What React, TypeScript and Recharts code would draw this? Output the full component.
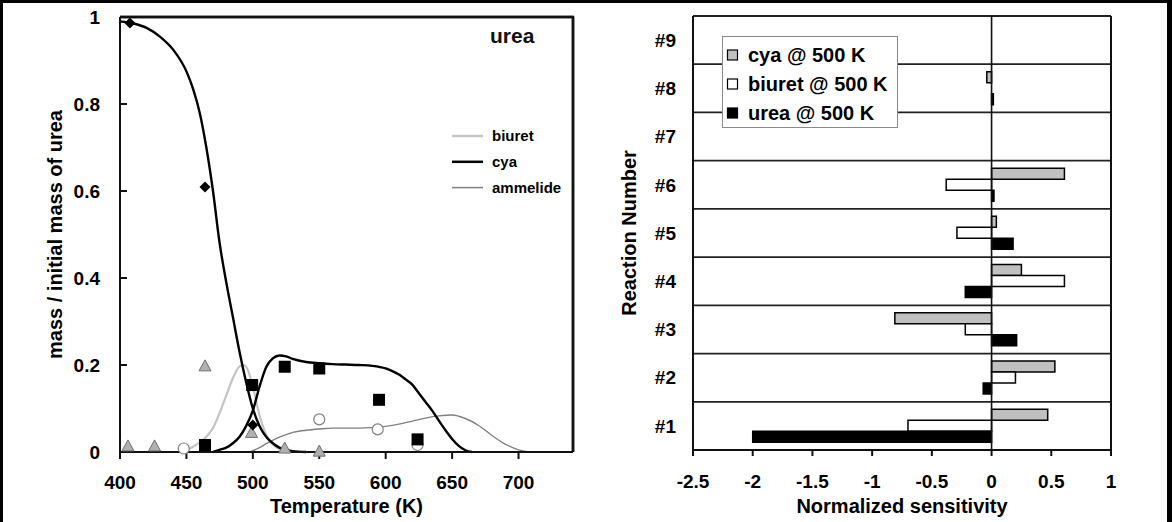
import React from "react";
import {
    Bar,
    BarChart,
    ComposedChart,
    Legend,
    Line,
    ReferenceLine,
    Scatter,
    XAxis,
    YAxis,
} from "recharts";

const FONT = '"Liberation Sans", Arial, Helvetica, sans-serif';

// ---- left panel: mass fraction vs temperature ----
const tempTicks = [400, 450, 500, 550, 600, 650, 700];
const massTicks = [0, 0.2, 0.4, 0.6, 0.8, 1];
const tempMin = 400;
const tempMax = 741;

// model curves, [T (K), mass / initial mass of urea]
const ureaCurve: [number, number][] = [
    [400, 0.99], [410, 0.985], [420, 0.975], [430, 0.955], [440, 0.925], [450, 0.875],
    [455, 0.835], [460, 0.78], [465, 0.7], [470, 0.6], [475, 0.48], [480, 0.39],
    [485, 0.31], [490, 0.23], [495, 0.16], [500, 0.1], [505, 0.06], [510, 0.035],
    [515, 0.02], [520, 0.01], [530, 0.002], [540, 0],
];
const biuretCurve: [number, number][] = [
    [450, 0.004], [455, 0.012], [460, 0.022], [465, 0.035], [470, 0.055], [475, 0.09],
    [480, 0.13], [485, 0.17], [490, 0.197], [493, 0.2], [496, 0.19], [500, 0.15],
    [505, 0.085], [510, 0.04], [515, 0.017], [520, 0.006], [525, 0.001], [530, 0],
];
const cyaCurve: [number, number][] = [
    [470, 0], [475, 0.005], [480, 0.01], [485, 0.02], [490, 0.035], [495, 0.06],
    [500, 0.095], [505, 0.15], [510, 0.195], [515, 0.215], [520, 0.222], [525, 0.22],
    [530, 0.214], [540, 0.207], [550, 0.204], [560, 0.202], [570, 0.201], [580, 0.2],
    [590, 0.198], [600, 0.192], [605, 0.186], [610, 0.178], [615, 0.167], [620, 0.155],
    [625, 0.135], [630, 0.115], [635, 0.095], [640, 0.072], [645, 0.05], [650, 0.03],
    [655, 0.014], [660, 0.004], [665, 0],
];
const ammelideCurve: [number, number][] = [
    [498, 0], [505, 0.01], [510, 0.019], [515, 0.027], [520, 0.034], [525, 0.04],
    [530, 0.045], [540, 0.05], [550, 0.053], [560, 0.055], [570, 0.055], [580, 0.055],
    [590, 0.056], [600, 0.059], [610, 0.064], [620, 0.071], [630, 0.078], [640, 0.083],
    [650, 0.085], [660, 0.077], [670, 0.061], [680, 0.038], [690, 0.018], [700, 0.005],
    [708, 0],
];

// measured points
const ureaPoints: [number, number][] = [[407.5, 0.986], [464, 0.609], [500, 0.062]];
const biuretPoints: [number, number][] = [
    [406, 0.014], [426, 0.014], [464, 0.198], [499, 0.045], [524, 0.009], [550, 0.002],
];
const cyaPoints: [number, number][] = [
    [464, 0.016], [499.5, 0.154], [524, 0.196], [550, 0.192], [595, 0.12], [624, 0.029],
];
const ammelidePoints: [number, number][] = [[448, 0.008], [550, 0.075], [594, 0.052], [624, 0.016]];

// ---- right panel: sensitivity per reaction ----
const reactions = ["#1", "#2", "#3", "#4", "#5", "#6", "#7", "#8", "#9"];
const cyaSens = [0.47, 0.53, -0.81, 0.25, 0.04, 0.61, 0, -0.04, 0];
const biuretSens = [-0.7, 0.2, -0.22, 0.61, -0.29, -0.38, 0, 0, 0];
const ureaSens = [-2.0, -0.07, 0.21, -0.22, 0.18, 0.02, 0, 0.015, 0];
const sensTicks = [-2.5, -2, -1.5, -1, -0.5, 0, 0.5, 1];

const toPts = (arr: [number, number][]) => arr.map(([t, v]) => ({ t, v }));

// #9 on top
const sensData = reactions
    .map((reaction, i) => ({ reaction, cya: cyaSens[i], biuret: biuretSens[i], urea: ureaSens[i] }))
    .reverse();

// left panel layout
const MASS_W = 590;
const MASS_H = 522;
const MASS_MARGIN = { top: 17, right: 17, bottom: 0, left: 0 };
const MASS_YAXIS_W = 120;
const MASS_XAXIS_H = 70;

const tickStyle = { fill: "#000", fontSize: 19, fontWeight: "bold", fontFamily: FONT };
const titleStyle = { fill: "#000", fontSize: 20, fontWeight: "bold", fontFamily: FONT };
const axisLine = { stroke: "#111", strokeWidth: 2 };

const BIURET_GRAY = "#c4c4c4";
const AMMELIDE_GRAY = "#808080";

function Diamond(p: any) {
    const { cx, cy } = p;
    return <path d={`M${cx},${cy - 5.5}L${cx + 5.5},${cy}L${cx},${cy + 5.5}L${cx - 5.5},${cy}Z`} fill="#000" />;
}
function Square(p: any) {
    return <rect x={p.cx - 6} y={p.cy - 6} width={12} height={12} fill="#000" />;
}
function Triangle(p: any) {
    const { cx, cy } = p;
    return (
        <path
            d={`M${cx},${cy - 6}L${cx + 6},${cy + 5}L${cx - 6},${cy + 5}Z`}
            fill="#b0b0b0"
            stroke="#707070"
            strokeWidth={1}
        />
    );
}
function OpenCircle(p: any) {
    return <circle cx={p.cx} cy={p.cy} r={5.5} fill="#fff" stroke={AMMELIDE_GRAY} strokeWidth={1.2} />;
}

function CurveLegend() {
    const rows = [
        { name: "biuret", color: BIURET_GRAY, w: 2.5 },
        { name: "cya", color: "#000", w: 2.5 },
        { name: "ammelide", color: AMMELIDE_GRAY, w: 1.5 },
    ];
    return (
        <svg width={130} height={80} style={{ display: "block" }}>
            {rows.map((r, i) => {
                const y = 13 + i * 25.8;
                return (
                    <g key={r.name}>
                        <line x1={0} x2={31} y1={y} y2={y} stroke={r.color} strokeWidth={r.w} />
                        <text x={40} y={y + 5} fontSize={15} fontWeight="bold" fontFamily={FONT} fill="#000">
                            {r.name}
                        </text>
                    </g>
                );
            })}
        </svg>
    );
}

function SensLegend() {
    const rows = [
        { name: "cya @ 500 K", fill: "#c0c0c0" },
        { name: "biuret @ 500 K", fill: "#fff" },
        { name: "urea @ 500 K", fill: "#000" },
    ];
    return (
        <div style={{ width: 176, height: 92, border: "1px solid #8a8a8a", background: "#fff", boxSizing: "border-box" }}>
            <svg width={174} height={90} style={{ display: "block" }}>
                {rows.map((r, i) => {
                    const y = 18 + i * 29;
                    return (
                        <g key={r.name}>
                            <rect x={4.5} y={y - 5} width={10} height={10} fill={r.fill} stroke="#000" strokeWidth={1.2} />
                            <text x={25} y={y + 7} fontSize={20} fontWeight="bold" fontFamily={FONT} fill="#000">
                                {r.name}
                            </text>
                        </g>
                    );
                })}
            </svg>
        </div>
    );
}

function MassChart() {
    return (
        <ComposedChart width={MASS_W} height={MASS_H} data={toPts(ureaCurve)} margin={MASS_MARGIN}>
            <XAxis
                type="number"
                dataKey="t"
                domain={[tempMin, tempMax]}
                ticks={tempTicks}
                interval={0}
                height={MASS_XAXIS_H}
                tick={tickStyle}
                tickSize={7}
                tickMargin={17}
                axisLine={axisLine}
                tickLine={axisLine}
                label={{ value: "Temperature (K)", position: "insideBottom", offset: 9, style: titleStyle }}
            />
            <YAxis
                type="number"
                dataKey="v"
                domain={[0, 1]}
                ticks={massTicks}
                interval={0}
                width={MASS_YAXIS_W}
                tick={tickStyle}
                tickSize={-7}
                tickMargin={27}
                axisLine={axisLine}
                tickLine={axisLine}
                label={{
                    value: "mass / initial mass of urea",
                    angle: -90,
                    position: "insideLeft",
                    offset: 55,
                    style: { ...titleStyle, textAnchor: "middle" },
                }}
            />
            <ReferenceLine y={1} stroke="#111" strokeWidth={2.5} ifOverflow="visible" />
            <ReferenceLine x={tempMax} stroke="#111" strokeWidth={2.5} ifOverflow="visible" />

            <Scatter data={toPts(biuretPoints)} dataKey="v" shape={Triangle} isAnimationActive={false} />
            <Scatter data={toPts(ammelidePoints)} dataKey="v" shape={OpenCircle} isAnimationActive={false} />
            <Scatter data={toPts(cyaPoints)} dataKey="v" shape={Square} isAnimationActive={false} />
            <Scatter data={toPts(ureaPoints)} dataKey="v" shape={Diamond} isAnimationActive={false} />

            <Line data={toPts(ammelideCurve)} dataKey="v" type="monotone" stroke={AMMELIDE_GRAY} strokeWidth={1.4} dot={false} activeDot={false} isAnimationActive={false} />
            <Line data={toPts(biuretCurve)} dataKey="v" type="monotone" stroke={BIURET_GRAY} strokeWidth={2.2} dot={false} activeDot={false} isAnimationActive={false} />
            <Line data={toPts(cyaCurve)} dataKey="v" type="monotone" stroke="#000" strokeWidth={2.4} dot={false} activeDot={false} isAnimationActive={false} />
            <Line dataKey="v" type="monotone" stroke="#000" strokeWidth={2.4} dot={false} activeDot={false} isAnimationActive={false} />

            <Legend
                layout="vertical"
                align="center"
                verticalAlign="middle"
                wrapperStyle={{ left: 452, top: 123, width: 130, height: 80 }}
                content={() => <CurveLegend />}
            />
        </ComposedChart>
    );
}

function SensChart() {
    return (
        <BarChart
            width={582}
            height={522}
            data={sensData}
            layout="vertical"
            margin={{ top: 16, right: 61, bottom: 0, left: 0 }}
            barCategoryGap="15.5%"
            barGap={0}
        >
            <XAxis
                type="number"
                domain={[-2.5, 1]}
                ticks={sensTicks}
                interval={0}
                height={72}
                tick={tickStyle}
                tickSize={6}
                tickMargin={19}
                axisLine={axisLine}
                tickLine={axisLine}
                label={{ value: "Normalized sensitivity", position: "insideBottom", offset: 9, style: titleStyle }}
            />
            <YAxis
                type="category"
                dataKey="reaction"
                width={103}
                tick={tickStyle}
                tickLine={false}
                tickSize={0}
                tickMargin={17}
                axisLine={axisLine}
                label={{
                    value: "Reaction Number",
                    angle: -90,
                    position: "insideLeft",
                    offset: 39,
                    style: { ...titleStyle, textAnchor: "middle" },
                }}
            />
            {reactions.map((r) => (
                <ReferenceLine key={r} y={r} position="start" stroke="#222" strokeWidth={1.8} />
            ))}
            <ReferenceLine x={1} stroke="#111" strokeWidth={2} />
            <ReferenceLine x={0} stroke="#111" strokeWidth={1.6} />

            <Bar dataKey="cya" fill="#c0c0c0" stroke="#000" strokeWidth={1.5} isAnimationActive={false} />
            <Bar dataKey="biuret" fill="#fff" stroke="#000" strokeWidth={1.5} isAnimationActive={false} />
            <Bar dataKey="urea" fill="#000" stroke="#000" strokeWidth={1.5} isAnimationActive={false} />

            <Legend
                layout="vertical"
                align="center"
                verticalAlign="middle"
                wrapperStyle={{ left: 132, top: 36, width: 176, height: 92 }}
                content={() => <SensLegend />}
            />
        </BarChart>
    );
}

export default function App() {
    // top/right edges of the left plot box, derived from the chart's layout constants
    const plotLeft = MASS_MARGIN.left + MASS_YAXIS_W;
    const plotTop = MASS_MARGIN.top;
    const plotRight = MASS_W - MASS_MARGIN.right;
    const plotBottom = MASS_H - MASS_MARGIN.bottom - MASS_XAXIS_H;
    return (
        <div style={{ position: "absolute", left: 0, top: 0, width: 1172, height: 522, background: "#fff", fontFamily: FONT }}>
            <div style={{ position: "absolute", left: 0, top: 0, zIndex: 1 }}>
                <MassChart />
            </div>
            <div style={{ position: "absolute", left: 590, top: 0, zIndex: 1 }}>
                <SensChart />
            </div>
            <div
                style={{
                    position: "absolute",
                    left: 490,
                    top: 25,
                    zIndex: 2,
                    fontSize: 21,
                    lineHeight: "21px",
                    fontWeight: "bold",
                    color: "#111",
                }}
            >
                urea
            </div>
            <svg
                width={1172}
                height={522}
                style={{ position: "absolute", left: 0, top: 0, zIndex: 10, pointerEvents: "none" }}
            >
                <path
                    d={`M${plotLeft},${plotTop}H${plotRight}V${plotBottom}`}
                    fill="none"
                    stroke="#111"
                    strokeWidth={2.5}
                />
                {/* outer picture border */}
                <rect x={0} y={0} width={1172} height={3} fill="#000" />
                <rect x={0} y={0} width={3} height={522} fill="#000" />
                <rect x={1167} y={0} width={5} height={522} fill="#000" />
            </svg>
        </div>
    );
}
